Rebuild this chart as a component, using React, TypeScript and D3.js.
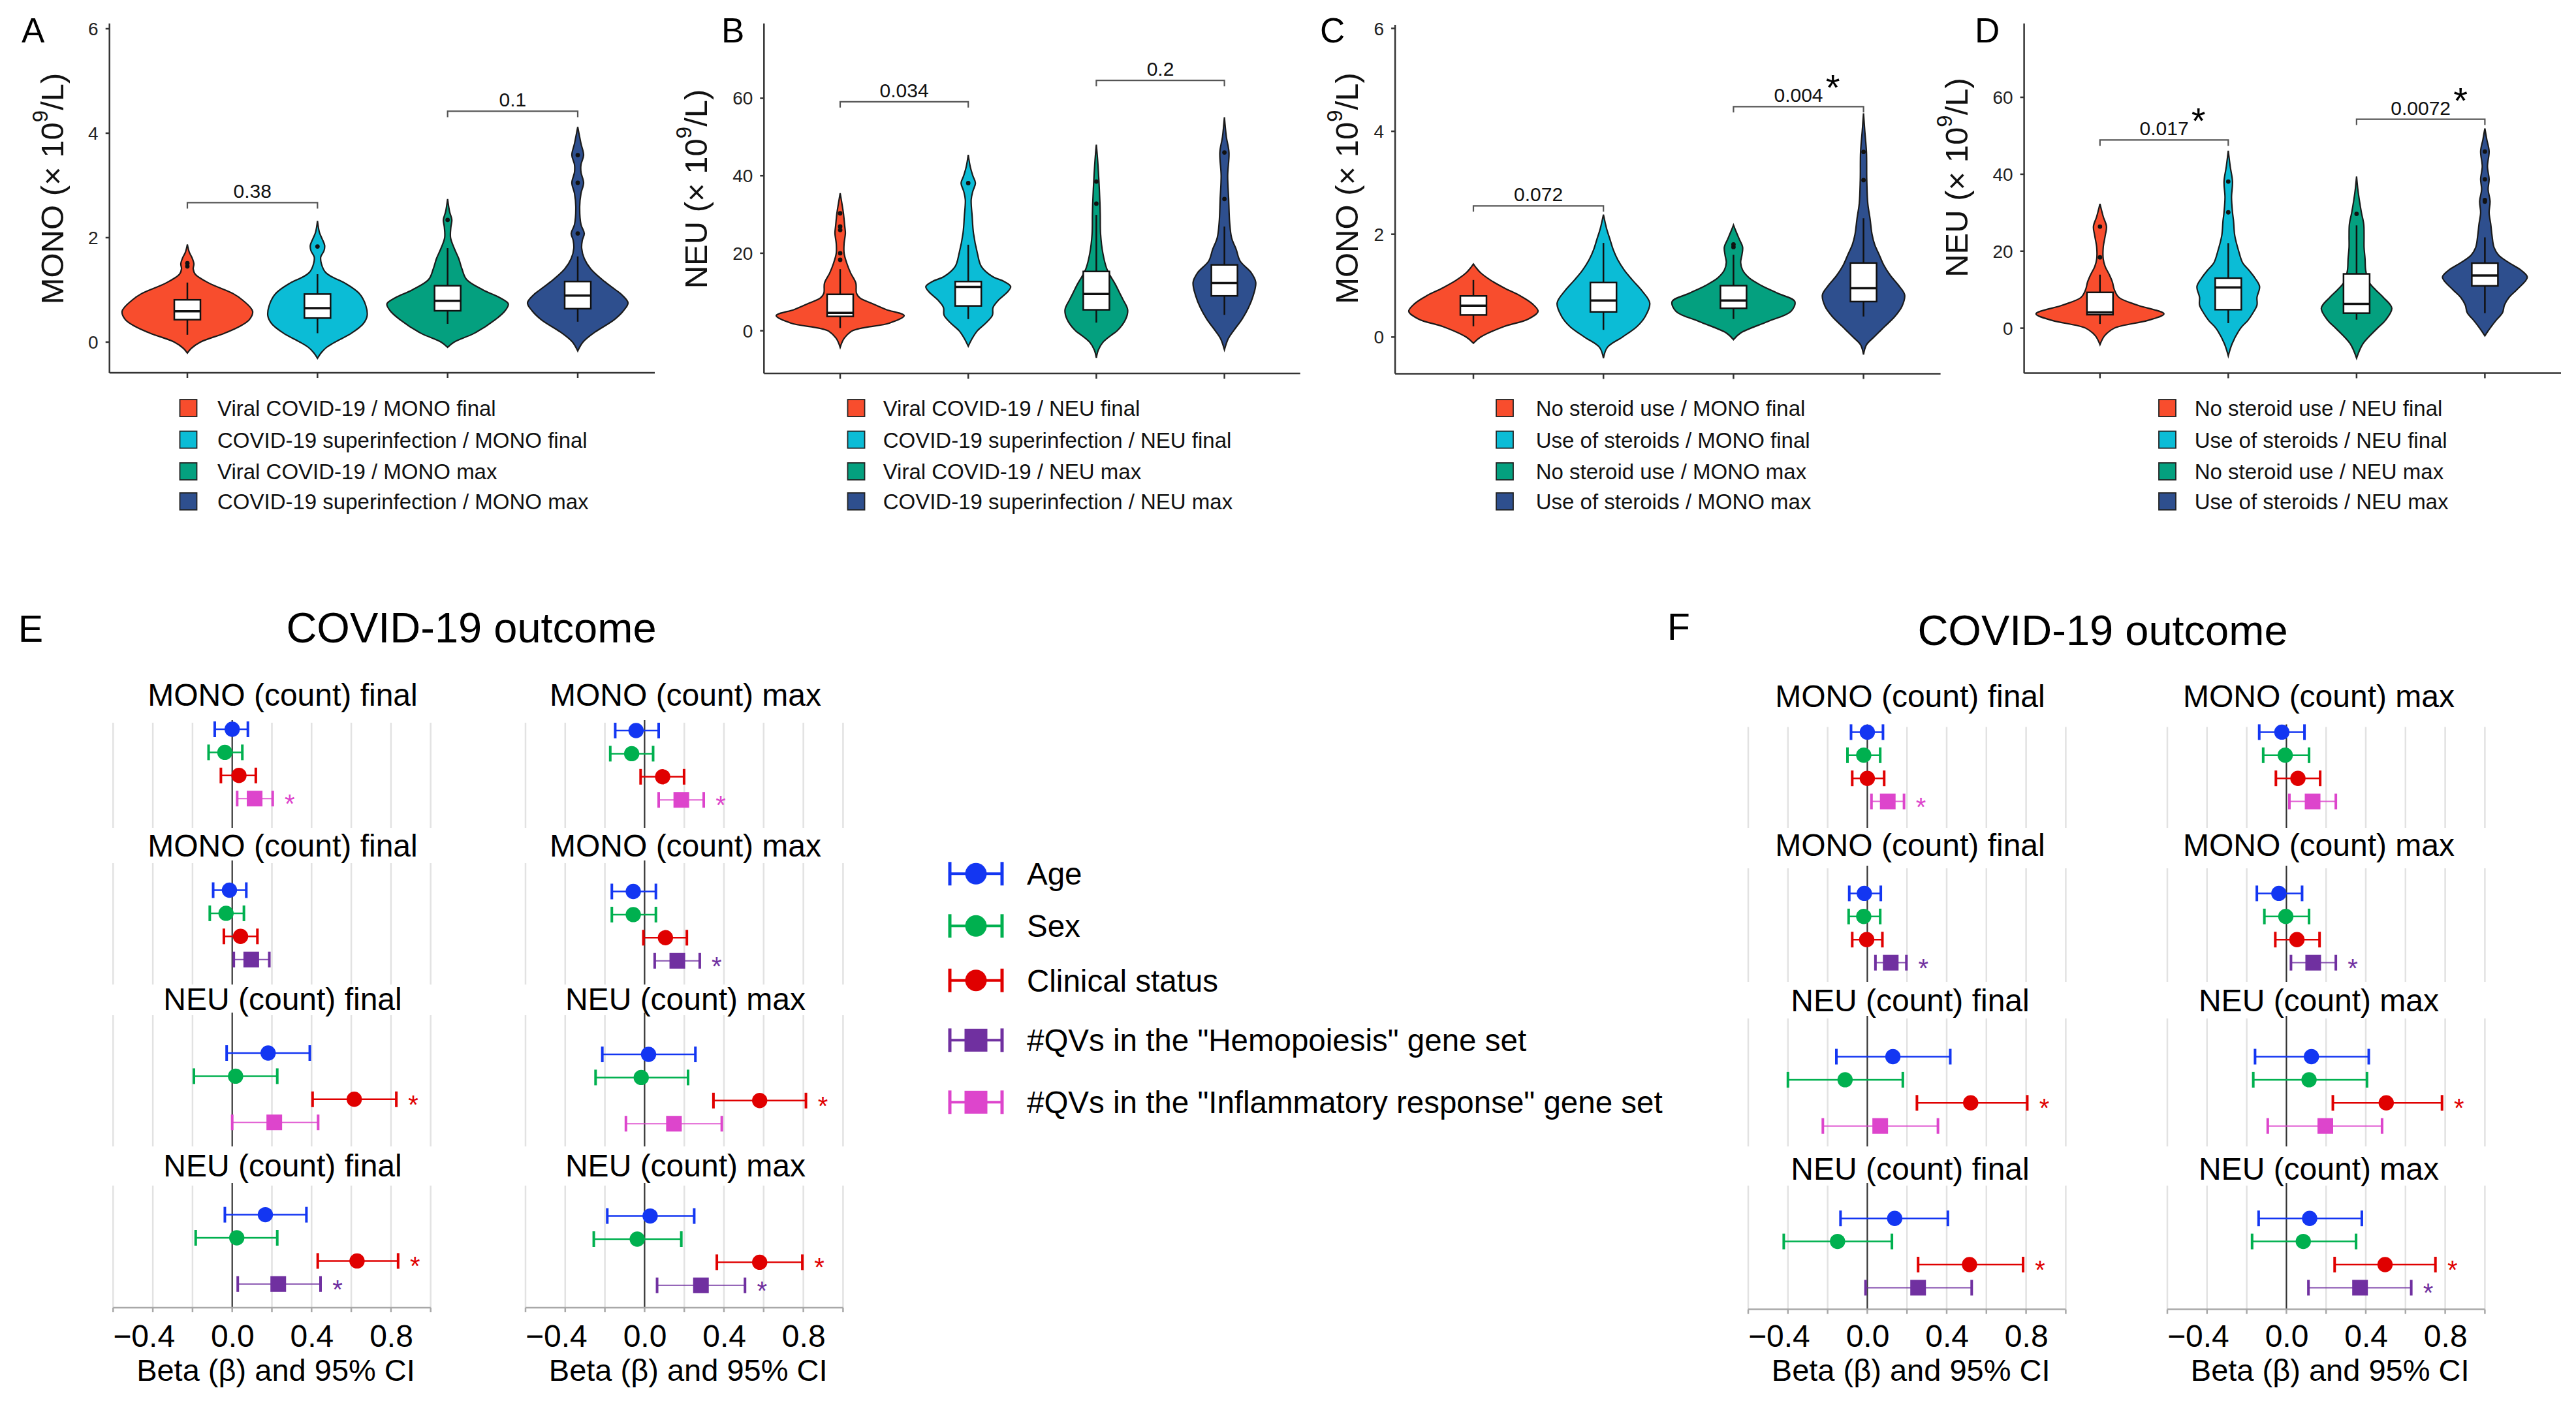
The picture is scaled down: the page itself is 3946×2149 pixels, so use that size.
import React from "react";
import * as d3 from "d3";

const FONT = "'Liberation Sans', Arial, Helvetica, sans-serif";
const VIOLIN_COLORS = ["#F84D2D", "#0BBCD6", "#04A07F", "#2E4F8E"];

// ---------------- Panel A : MONO, viral vs superinfection ----------------
const A_groups = ["Viral COVID-19 / MONO final", "COVID-19 superinfection / MONO final", "Viral COVID-19 / MONO max", "COVID-19 superinfection / MONO max"];
const A_profiles = [
  [[-0.21,0],[-0.12,0.06],[0,0.2],[0.17,0.57],[0.3,0.8],[0.43,0.95],[0.59,1.0],[0.8,0.85],[0.93,0.7],[1.13,0.33],[1.3,0.12],[1.4,0.09],[1.5,0.1],[1.62,0.07],[1.72,0.03],[1.87,0]],
  [[-0.31,0],[-0.2,0.06],[-0.1,0.14],[0,0.27],[0.17,0.52],[0.35,0.7],[0.5,0.76],[0.7,0.74],[0.93,0.64],[1.13,0.42],[1.25,0.22],[1.34,0.12],[1.5,0.06],[1.63,0.05],[1.75,0.1],[1.85,0.11],[1.98,0.07],[2.1,0.03],[2.32,0]],
  [[-0.1,0],[0,0.1],[0.17,0.41],[0.43,0.73],[0.6,0.88],[0.73,0.93],[0.85,0.8],[1.0,0.54],[1.2,0.29],[1.4,0.22],[1.6,0.17],[1.8,0.1],[2.0,0.045],[2.2,0.05],[2.34,0.065],[2.5,0.03],[2.74,0]],
  [[-0.17,0],[0,0.08],[0.17,0.24],[0.43,0.56],[0.6,0.7],[0.75,0.77],[0.9,0.68],[1.0,0.58],[1.16,0.41],[1.4,0.2],[1.6,0.1],[1.8,0.06],[1.95,0.07],[2.08,0.1],[2.25,0.05],[2.6,0.03],[2.85,0.05],[3.05,0.09],[3.25,0.05],[3.4,0.05],[3.58,0.09],[3.8,0.05],[4.12,0]],
];
// [lower whisker, Q1, median, Q3, upper whisker]
const A_boxes = [[0.14,0.43,0.59,0.81,1.14],[0.17,0.46,0.65,0.92,1.30],[0.35,0.60,0.79,1.08,1.80],[0.39,0.64,0.89,1.16,1.64]];
const A_outliers = [[1.51,1.45],[1.83],[2.34],[3.58,3.05,2.08]];
const A_tests = [{ a: 0, b: 1, y: 2.67, p: "0.38", star: false }, { a: 2, b: 3, y: 4.42, p: "0.1", star: false }];

// ---------------- Panel B : NEU, viral vs superinfection ----------------
const B_groups = ["Viral COVID-19 / NEU final", "COVID-19 superinfection / NEU final", "Viral COVID-19 / NEU max", "COVID-19 superinfection / NEU max"];
const B_profiles = [
  [[-4.3,0],[-2,0.06],[0,0.19],[2,0.76],[3.9,0.98],[5.5,0.7],[7.1,0.48],[8.5,0.3],[9.7,0.25],[12.3,0.24],[14.9,0.16],[17.5,0.1],[20,0.06],[22.5,0.06],[25.2,0.08],[27,0.07],[30.3,0.05],[32.5,0.03],[35.5,0]],
  [[-4,0],[-2,0.06],[0,0.14],[2,0.27],[4,0.37],[6,0.38],[8,0.47],[10,0.6],[11.4,0.65],[12.7,0.55],[14,0.37],[16.6,0.2],[20,0.14],[25.2,0.08],[29.5,0.06],[33.8,0.045],[36,0.07],[38.1,0.11],[40,0.07],[42.4,0.03],[45.4,0]],
  [[-7,0],[-5,0.03],[-3,0.1],[-1,0.24],[0,0.32],[3,0.45],[5.4,0.48],[8,0.41],[10,0.35],[12,0.29],[14,0.22],[16,0.16],[20,0.1],[25,0.065],[30,0.06],[33,0.055],[38.5,0.04],[44,0.02],[48,0]],
  [[-4.9,0],[-2,0.06],[0,0.14],[3,0.27],[6,0.37],[9,0.44],[12.5,0.48],[15,0.41],[18,0.24],[21,0.18],[24,0.11],[28,0.08],[34,0.065],[40,0.05],[46,0.07],[50,0.03],[55.1,0]],
];
const B_boxes = [[0.7,3.7,4.6,9.4,15.9],[3.0,6.4,11.3,12.7,22.2],[2.1,5.4,9.5,15.3,29.9],[4.1,9.0,12.3,17.0,26.9]];
const B_outliers = [[30.3,26.9,26,20,18.3],[38.1],[38.5,32.8],[34.0,46.0]];
const B_tests = [{ a: 0, b: 1, y: 59.1, p: "0.034", star: false }, { a: 2, b: 3, y: 64.6, p: "0.2", star: false }];

// ---------------- Panel C : MONO, steroid use ----------------
const C_groups = ["No steroid use / MONO final", "Use of steroids / MONO final", "No steroid use / MONO max", "Use of steroids / MONO max"];
const C_profiles = [
  [[-0.12,0],[0,0.11],[0.2,0.46],[0.35,0.84],[0.5,0.99],[0.65,0.9],[0.8,0.72],[0.95,0.48],[1.1,0.27],[1.25,0.11],[1.35,0.04],[1.42,0]],
  [[-0.41,0],[-0.2,0.06],[0,0.29],[0.2,0.51],[0.4,0.64],[0.66,0.71],[0.9,0.59],[1.1,0.45],[1.3,0.32],[1.5,0.22],[1.7,0.15],[1.9,0.1],[2.1,0.05],[2.38,0]],
  [[-0.05,0],[0.08,0.11],[0.3,0.52],[0.5,0.88],[0.69,0.94],[0.85,0.68],[1.0,0.43],[1.15,0.24],[1.3,0.14],[1.45,0.11],[1.6,0.13],[1.75,0.14],[1.9,0.09],[2.05,0.04],[2.18,0]],
  [[-0.34,0],[-0.15,0.045],[0,0.16],[0.2,0.32],[0.4,0.48],[0.6,0.59],[0.82,0.63],[1.0,0.54],[1.2,0.41],[1.4,0.31],[1.6,0.24],[1.8,0.17],[2.0,0.13],[2.3,0.1],[2.6,0.065],[3.05,0.05],[3.6,0.045],[4.0,0.02],[4.35,0]],
];
const C_boxes = [[0.21,0.43,0.61,0.80,1.11],[0.14,0.49,0.71,1.06,1.83],[0.35,0.56,0.71,1.0,1.6],[0.4,0.69,0.95,1.44,2.31]];
const C_outliers = [[],[],[1.75,1.8],[3.6,3.05]];
const C_tests = [{ a: 0, b: 1, y: 2.55, p: "0.072", star: false }, { a: 2, b: 3, y: 4.48, p: "0.004", star: true }];

// ---------------- Panel D : NEU, steroid use ----------------
const D_groups = ["No steroid use / NEU final", "Use of steroids / NEU final", "No steroid use / NEU max", "Use of steroids / NEU max"];
const D_profiles = [
  [[-4.3,0],[-2,0.07],[0,0.22],[2,0.73],[3.7,0.98],[6,0.57],[8,0.29],[10,0.22],[12,0.19],[14,0.14],[16,0.08],[18,0.05],[21,0.05],[24,0.08],[26.4,0.1],[29,0.05],[32.3,0]],
  [[-7.2,0],[-4,0.06],[0,0.19],[2,0.3],[4,0.38],[6,0.44],[8,0.44],[10.8,0.48],[13,0.41],[15,0.32],[17,0.22],[20,0.16],[24,0.1],[28,0.08],[30.1,0.065],[34,0.05],[38.1,0.065],[42,0.03],[46.1,0]],
  [[-7.8,0],[-4,0.1],[0,0.32],[2,0.44],[5.2,0.54],[8,0.41],[10,0.29],[12,0.19],[15,0.14],[18,0.13],[21,0.115],[24,0.115],[27,0.11],[30,0.075],[33,0.045],[36,0.02],[39.4,0]],
  [[-2,0],[0,0.08],[2,0.17],[4,0.27],[6,0.3],[8,0.37],[10,0.49],[13.2,0.65],[15,0.56],[17,0.37],[19,0.21],[21,0.14],[24,0.11],[27,0.09],[30,0.065],[33,0.08],[36,0.05],[38.7,0.065],[42,0.04],[46,0.065],[49,0.03],[51.9,0]],
];
const D_boxes = [[1.1,3.5,4.1,9.3,13.9],[1.3,4.8,10.6,13.0,22.1],[2.2,3.9,6.3,14.1,26.7],[3.9,11.0,13.7,16.9,23.6]];
const D_outliers = [[26.4,18.4],[38.1,30.1],[29.7],[45.9,38.7,33.3,32.9]];
const D_tests = [{ a: 0, b: 1, y: 48.9, p: "0.017", star: true }, { a: 2, b: 3, y: 54.3, p: "0.0072", star: true }];

const MONO_ticks = [0, 2, 4, 6];
const NEU_ticks = [0, 20, 40, 60];

// ---------------- Panels E / F : regression betas [beta, lo, hi] ----------------
const covariates = ["Age", "Sex", "Clinical status", "#QVs in the \"Hemopoiesis\" gene set", "#QVs in the \"Inflammatory response\" gene set"];
const facetTitlesFinal = ["MONO (count) final", "MONO (count) final", "NEU (count) final", "NEU (count) final"];
const facetTitlesMax = ["MONO (count) max", "MONO (count) max", "NEU (count) max", "NEU (count) max"];
const facetQV = [4, 3, 4, 3]; // inflammatory, hemopoiesis, inflammatory, hemopoiesis

const E_final_1 = [[0.0,-0.088,0.079],[-0.037,-0.119,0.051],[0.034,-0.057,0.119],[0.113,0.025,0.204]];
const E_final_2 = [[-0.014,-0.096,0.071],[-0.031,-0.113,0.059],[0.042,-0.042,0.127],[0.096,0.008,0.187]];
const E_final_3 = [[0.181,-0.028,0.391],[0.017,-0.193,0.227],[0.615,0.405,0.827],[0.212,0.0,0.433]];
const E_final_4 = [[0.167,-0.037,0.374],[0.023,-0.184,0.227],[0.629,0.431,0.836],[0.232,0.028,0.445]];
const E_final_stars = [[0,0,0,1],[0,0,0,0],[0,0,1,0],[0,0,1,1]];

const E_max_1 = [[-0.043,-0.148,0.071],[-0.065,-0.173,0.043],[0.091,-0.02,0.199],[0.185,0.071,0.298]];
const E_max_2 = [[-0.057,-0.165,0.057],[-0.057,-0.165,0.057],[0.105,-0.006,0.213],[0.165,0.051,0.278]];
const E_max_3 = [[0.02,-0.213,0.256],[-0.017,-0.247,0.219],[0.58,0.347,0.813],[0.148,-0.094,0.389]];
const E_max_4 = [[0.028,-0.188,0.25],[-0.037,-0.256,0.185],[0.58,0.364,0.795],[0.284,0.063,0.506]];
const E_max_stars = [[0,0,0,1],[0,0,0,1],[0,0,1,0],[0,0,1,1]];

const F_final_1 = [[0.0,-0.082,0.079],[-0.018,-0.1,0.065],[0.0,-0.076,0.085],[0.103,0.021,0.185]];
const F_final_2 = [[-0.015,-0.091,0.068],[-0.018,-0.094,0.065],[-0.003,-0.076,0.076],[0.118,0.041,0.197]];
const F_final_3 = [[0.129,-0.156,0.418],[-0.112,-0.4,0.179],[0.521,0.25,0.806],[0.065,-0.224,0.356]];
const F_final_4 = [[0.138,-0.135,0.406],[-0.15,-0.421,0.124],[0.515,0.256,0.785],[0.256,-0.009,0.526]];
const F_final_stars = [[0,0,0,1],[0,0,0,1],[0,0,1,0],[0,0,1,0]];

const F_max_1 = [[-0.023,-0.137,0.091],[-0.006,-0.117,0.114],[0.058,-0.053,0.17],[0.132,0.015,0.249]];
const F_max_2 = [[-0.038,-0.149,0.079],[-0.003,-0.111,0.114],[0.053,-0.056,0.167],[0.135,0.023,0.249]];
const F_max_3 = [[0.126,-0.158,0.415],[0.114,-0.167,0.406],[0.503,0.234,0.784],[0.196,-0.094,0.482]];
const F_max_4 = [[0.117,-0.14,0.38],[0.085,-0.173,0.351],[0.497,0.243,0.751],[0.371,0.111,0.629]];
const F_max_stars = [[0,0,0,0],[0,0,0,1],[0,0,1,0],[0,0,1,1]];

const betaGrid = [-0.6, -0.4, -0.2, 0, 0.2, 0.4, 0.6, 0.8, 1.0];
const betaLabels = [[-0.4, "\u22120.4"], [0, "0.0"], [0.4, "0.4"], [0.8, "0.8"]];
const betaTitle = "Beta (\u03b2) and 95% CI";

const COV_COLORS = ["#1336F2", "#00B04F", "#E00000", "#7030A0", "#DD45CC"];

// ---------------- layout ----------------
const violinPanels = [
  { letter: "A", letterX: 33, axisX: 167.7, axisEnd: 1003, top: 36, bottom: 571, dom: [-0.5875, 6.1], range: [287, 885], ticks: MONO_ticks, yname: "MONO", titleX: 97, titleY: 289, sqX: 275.5, textX: 333, groups: A_groups, profiles: A_profiles, boxes: A_boxes, outliers: A_outliers, tests: A_tests },
  { letter: "B", letterX: 1105, axisX: 1170.3, axisEnd: 1991.7, top: 36, bottom: 572, dom: [-11.02, 79.29], range: [1287, 1875.6], ticks: NEU_ticks, yname: "NEU", titleX: 1083, titleY: 289.5, sqX: 1298.5, textX: 1352.7, groups: B_groups, profiles: B_profiles, boxes: B_boxes, outliers: B_outliers, tests: B_tests },
  { letter: "C", letterX: 2022, axisX: 2137.1, axisEnd: 2972.6, top: 38, bottom: 572.4, dom: [-0.712, 6.07], range: [2257, 2854.6], ticks: MONO_ticks, yname: "MONO", titleX: 2080, titleY: 288.5, sqX: 2292, textX: 2352.7, groups: C_groups, profiles: C_profiles, boxes: C_boxes, outliers: C_outliers, tests: C_tests },
  { letter: "D", letterX: 3025, axisX: 3100.6, axisEnd: 3923, top: 36, bottom: 571.4, dom: [-11.67, 79.18], range: [3216.8, 3806.4], ticks: NEU_ticks, yname: "NEU", titleX: 3013.5, titleY: 272, sqX: 3307, textX: 3361.7, groups: D_groups, profiles: D_profiles, boxes: D_boxes, outliers: D_outliers, tests: D_tests },
];
const legendRowsY = [625, 673.5, 722, 768];

const E_layout = { panels: [[1107, 1268], [1322, 1508], [1555, 1756], [1816, 2003]], rows: [1117, 1363.5, 1613, 1860.6], titles: [1081, 1312, 1547, 1802], axisY: 2003 };
const F_layout = { panels: [[1113.5, 1268], [1330, 1504], [1560, 1756], [1816, 2005.6]], rows: [1121.4, 1368.4, 1618.5, 1866.2], titles: [1083, 1311, 1549, 1807], axisY: 2005.6 };

const forestPlots = [
  { x0: 173.3, layout: E_layout, dy: 0, data: [E_final_1, E_final_2, E_final_3, E_final_4], stars: E_final_stars, titles: facetTitlesFinal, titleX: 433 },
  { x0: 805, layout: E_layout, dy: 2, data: [E_max_1, E_max_2, E_max_3, E_max_4], stars: E_max_stars, titles: facetTitlesMax, titleX: 1050 },
  { x0: 2678, layout: F_layout, dy: 0, data: [F_final_1, F_final_2, F_final_3, F_final_4], stars: F_final_stars, titles: facetTitlesFinal, titleX: 2926 },
  { x0: 3320, layout: F_layout, dy: 0, data: [F_max_1, F_max_2, F_max_3, F_max_4], stars: F_max_stars, titles: facetTitlesMax, titleX: 3552 },
];

const wScale = d3.scaleLinear().domain([0, 1]).range([0, 100]);

function ViolinPanel({ cfg }) {
  const ys = d3.scaleLinear().domain(cfg.dom).range([cfg.bottom, cfg.top]);
  const xs = d3.scalePoint().domain(cfg.groups).range(cfg.range);
  return (
    <g>
      <text x={cfg.letterX} y={65} fontSize={53} fontFamily={FONT}>{cfg.letter}</text>
      <text transform={`translate(${cfg.titleX},${cfg.titleY}) rotate(-90)`} textAnchor="middle" fontSize={49} fontFamily={FONT} fill="#111">
        {cfg.yname + " (\u00d7 10"}<tspan dy={-24} fontSize={33}>9</tspan><tspan dy={24}>/L)</tspan>
      </text>
      {cfg.groups.map((g, i) => {
        const cx = xs(g);
        const area = d3.area().y((d) => ys(d[0])).x0((d) => cx - wScale(d[1])).x1((d) => cx + wScale(d[1])).curve(d3.curveCatmullRom.alpha(0.5));
        const [lo, q1, med, q3, hi] = cfg.boxes[i];
        return (
          <g key={g}>
            <path d={area(cfg.profiles[i])} fill={VIOLIN_COLORS[i]} stroke="#1a1a1a" strokeWidth={2.2} />
            <line x1={cx} x2={cx} y1={ys(hi)} y2={ys(q3)} stroke="#111" strokeWidth={2.5} />
            <line x1={cx} x2={cx} y1={ys(q1)} y2={ys(lo)} stroke="#111" strokeWidth={2.5} />
            <rect x={cx - 20} y={ys(q3)} width={40} height={ys(q1) - ys(q3)} fill="#fff" stroke="#111" strokeWidth={2.5} />
            <line x1={cx - 20} x2={cx + 20} y1={ys(med)} y2={ys(med)} stroke="#111" strokeWidth={3.5} />
            {cfg.outliers[i].map((o, k) => <circle key={k} cx={cx} cy={ys(o)} r={3.4} fill="#111" />)}
          </g>
        );
      })}
      {cfg.tests.map((t, k) => {
        const x1 = xs(cfg.groups[t.a]), x2 = xs(cfg.groups[t.b]), y = ys(t.y);
        const mid = (x1 + x2) / 2;
        const w = t.p.length * 16.7 - 8;
        return (
          <g key={k}>
            <path d={`M${x1},${y + 9}V${y}H${x2}V${y + 9}`} fill="none" stroke="#555" strokeWidth={2.2} />
            <text x={mid} y={y - 7} textAnchor="middle" fontSize={30} fontFamily={FONT} fill="#111">{t.p}</text>
            {t.star && <text x={mid + w / 2 + 4} y={y - 10} fontSize={56} fontFamily={FONT} fill="#000">*</text>}
          </g>
        );
      })}
      <line x1={cfg.axisX} x2={cfg.axisX} y1={cfg.top} y2={cfg.bottom} stroke="#333" strokeWidth={2.5} />
      <line x1={cfg.axisX} x2={cfg.axisEnd} y1={cfg.bottom} y2={cfg.bottom} stroke="#333" strokeWidth={2.5} />
      {cfg.ticks.map((t) => (
        <g key={t}>
          <line x1={cfg.axisX - 6} x2={cfg.axisX} y1={ys(t)} y2={ys(t)} stroke="#333" strokeWidth={2.5} />
          <text x={cfg.axisX - 17} y={ys(t) + 10} textAnchor="end" fontSize={28} fontFamily={FONT} fill="#222">{t}</text>
        </g>
      ))}
      {cfg.groups.map((g) => (
        <line key={g} x1={xs(g)} x2={xs(g)} y1={cfg.bottom} y2={cfg.bottom + 8} stroke="#333" strokeWidth={2.5} />
      ))}
      {cfg.groups.map((g, i) => (
        <g key={"lg" + i}>
          <rect x={cfg.sqX} y={legendRowsY[i] - 13} width={26} height={26} fill={VIOLIN_COLORS[i]} stroke="#222" strokeWidth={1.8} />
          <text x={cfg.textX} y={legendRowsY[i] + 12} fontSize={33} fontFamily={FONT} fill="#111">{g}</text>
        </g>
      ))}
    </g>
  );
}

function Marker({ x, y, kind, color, big }) {
  if (kind === "square") {
    const s = big ? 35 : 24;
    return <rect x={x - s / 2} y={y - s / 2} width={s} height={s} fill={color} />;
  }
  return <circle cx={x} cy={y} r={big ? 16.5 : 11.7} fill={color} />;
}

function ForestPlot({ p }) {
  const xs = d3.scaleLinear().domain([-0.6, 1.0]).range([p.x0, p.x0 + 486.4]);
  const L = p.layout;
  const mid = (xs(-0.6) + xs(1.0)) / 2;
  return (
    <g>
      {L.panels.map(([t, b], fi) => (
        <g key={fi}>
          {betaGrid.filter((v) => v !== 0).map((v) => (
            <line key={v} x1={xs(v)} x2={xs(v)} y1={t} y2={b} stroke="#E2E2E2" strokeWidth={2.5} />
          ))}
          <line x1={xs(0)} x2={xs(0)} y1={t - 4} y2={b} stroke="#333" strokeWidth={2.2} />
          <text x={p.titleX} y={L.titles[fi]} textAnchor="middle" fontSize={48} fontFamily={FONT} fill="#000">{p.titles[fi]}</text>
          {p.data[fi].map((d, ri) => {
            const y = L.rows[fi] + ri * 35.4 + p.dy;
            const ci = ri < 3 ? ri : facetQV[fi];
            const color = COV_COLORS[ci];
            const isQV = ri === 3;
            return (
              <g key={ri}>
                <line x1={xs(d[1])} x2={xs(d[2])} y1={y} y2={y} stroke={color} strokeWidth={isQV ? 2 : 2.5} opacity={isQV ? 0.85 : 1} />
                <line x1={xs(d[1])} x2={xs(d[1])} y1={y - 12} y2={y + 12} stroke={color} strokeWidth={4} />
                <line x1={xs(d[2])} x2={xs(d[2])} y1={y - 12} y2={y + 12} stroke={color} strokeWidth={4} />
                <Marker x={xs(d[0])} y={y} kind={isQV ? "square" : "circle"} color={color} big={false} />
                {p.stars[fi][ri] ? (
                  <text x={xs(d[2]) + 26} y={y + 22} textAnchor="middle" fontSize={40} fontFamily={FONT} fill={color}>*</text>
                ) : null}
              </g>
            );
          })}
        </g>
      ))}
      <line x1={xs(-0.6)} x2={xs(1.0)} y1={L.axisY} y2={L.axisY} stroke="#A8A8A8" strokeWidth={2.5} />
      {betaGrid.map((v) => (
        <line key={v} x1={xs(v)} x2={xs(v)} y1={L.axisY} y2={L.axisY + 7} stroke="#A8A8A8" strokeWidth={2.5} />
      ))}
      {betaLabels.map(([v, s]) => (
        <text key={s} x={xs(v) + 34} y={2063} textAnchor="end" fontSize={48} fontFamily={FONT} fill="#000">{s}</text>
      ))}
      <text x={mid + 6} y={2115} textAnchor="middle" fontSize={47} fontFamily={FONT} fill="#000">{betaTitle}</text>
    </g>
  );
}

function ForestLegend() {
  const rows = [1338.3, 1418.3, 1501.7, 1593.3, 1688.3];
  return (
    <g>
      {covariates.map((c, i) => {
        const y = rows[i];
        const color = COV_COLORS[i];
        return (
          <g key={c}>
            <line x1={1455} x2={1535} y1={y} y2={y} stroke={color} strokeWidth={4} />
            <line x1={1455} x2={1455} y1={y - 18} y2={y + 18} stroke={color} strokeWidth={5} />
            <line x1={1535} x2={1535} y1={y - 18} y2={y + 18} stroke={color} strokeWidth={5} />
            <Marker x={1495} y={y} kind={i >= 3 ? "square" : "circle"} color={color} big={true} />
            <text x={1573} y={y + 17} fontSize={47.5} fontFamily={FONT} fill="#000">{c}</text>
          </g>
        );
      })}
    </g>
  );
}

export default function App() {
  return (
    <svg width={3946} height={2149} viewBox="0 0 3946 2149" style={{ position: "absolute", left: 0, top: 0 }} xmlns="http://www.w3.org/2000/svg">
      <rect width={3946} height={2149} fill="#fff" />
      {violinPanels.map((cfg) => <ViolinPanel key={cfg.letter} cfg={cfg} />)}
      <text x={28} y={983} fontSize={57} fontFamily={FONT}>E</text>
      <text x={722} y={984} textAnchor="middle" fontSize={65} fontFamily={FONT}>COVID-19 outcome</text>
      <text x={2554} y={980} fontSize={57} fontFamily={FONT}>F</text>
      <text x={3221} y={988} textAnchor="middle" fontSize={65} fontFamily={FONT}>COVID-19 outcome</text>
      {forestPlots.map((p, i) => <ForestPlot key={i} p={p} />)}
      <ForestLegend />
    </svg>
  );
}
